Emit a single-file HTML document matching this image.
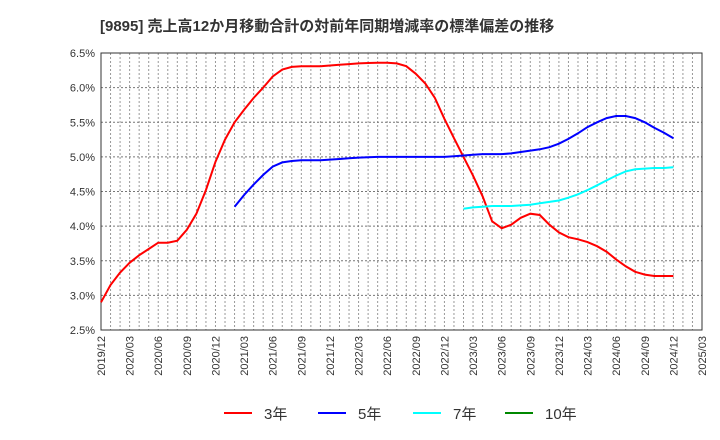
<!DOCTYPE html>
<html><head><meta charset="utf-8"><style>
body{margin:0;background:#fff;}
svg{display:block;font-family:"Liberation Sans","Noto Sans CJK JP",sans-serif;}
</style></head><body>
<svg id="c" width="720" height="440">
<text x="100" y="31" font-size="15" font-weight="bold" fill="#333">[9895]  売上高12か月移動合計の対前年同期増減率の標準偏差の推移</text>
</svg>
<script>
const xTicks=["2019/12","2020/03","2020/06","2020/09","2020/12","2021/03","2021/06","2021/09","2021/12","2022/03","2022/06","2022/09","2022/12","2023/03","2023/06","2023/09","2023/12","2024/03","2024/06","2024/09","2024/12","2025/03"];
const yTicks=[2.5,3.0,3.5,4.0,4.5,5.0,5.5,6.0,6.5];
const s3=[2.9,3.15,3.33,3.47,3.58,3.67,3.76,3.76,3.79,3.95,4.18,4.52,4.93,5.25,5.5,5.68,5.85,6.0,6.16,6.26,6.3,6.31,6.31,6.31,6.32,6.33,6.34,6.35,6.355,6.36,6.36,6.35,6.31,6.2,6.06,5.85,5.55,5.27,5.0,4.73,4.43,4.07,3.97,4.02,4.12,4.18,4.16,4.02,3.91,3.84,3.81,3.77,3.71,3.63,3.52,3.42,3.34,3.3,3.28,3.28,3.28];
const s3Start=0;
const s5=[4.28,4.45,4.6,4.74,4.86,4.92,4.94,4.95,4.95,4.95,4.96,4.97,4.98,4.99,4.995,5,5,5,5,5,5,5,5,5.01,5.02,5.03,5.04,5.04,5.04,5.05,5.07,5.09,5.11,5.14,5.19,5.26,5.34,5.43,5.5,5.56,5.59,5.59,5.56,5.5,5.42,5.35,5.27];
const s5Start=14;
const s7=[4.25,4.27,4.28,4.29,4.29,4.29,4.3,4.31,4.33,4.35,4.37,4.41,4.46,4.52,4.59,4.66,4.73,4.79,4.82,4.83,4.84,4.84,4.85];
const s7Start=38;
const s10=[];
const s10Start=0;
const NS="http://www.w3.org/2000/svg";
const svg=document.getElementById('c');
const L=101,R=702,T=53,B=330,months=63;
const xs=m=>L+(R-L)*m/months;
const ys=v=>B-(B-T)*(v-2.5)/4;
function el(t,a,p){const e=document.createElementNS(NS,t);for(const k in a)e.setAttribute(k,a[k]);(p||svg).appendChild(e);return e;}
const grid=el('g',{});


for(let m=1;m<months;m++){el('line',{x1:xs(m),x2:xs(m),y1:T,y2:B,stroke:'#999','stroke-dasharray':'2,2','stroke-width':1},grid);}
yTicks.forEach(v=>{const y=ys(v);
if(v>2.5&&v<6.5)el('line',{x1:L,x2:R,y1:y,y2:y,stroke:'#777','stroke-dasharray':'2,2','stroke-width':1},grid);
const t=el('text',{x:L-6,y:y+4,'font-size':11,'text-anchor':'end',fill:'#333'});t.textContent=v.toFixed(1)+'%';

});
xTicks.forEach((lab,i)=>{const x=xs(i*3);const t=el('text',{transform:`translate(${x+4},${B+6}) rotate(-90)`,'font-size':11,'text-anchor':'end',fill:'#333'});t.textContent=lab;

});
const fr=el('rect',{x:L,y:T,width:R-L,height:B-T,fill:'none',stroke:'#333','stroke-width':1});


function series(vals,start,color,name){if(!vals.length)return;
const d=vals.map((v,i)=>(i?'L':'M')+xs(start+i).toFixed(1)+','+ys(v).toFixed(1)).join('');
const p=el('path',{d:d,fill:'none',stroke:color,'stroke-width':2});

}
series(s3,s3Start,'#f00','series-3y');
series(s5,s5Start,'#00f','series-5y');
series(s7,s7Start,'#0ff','series-7y');
series(s10,s10Start,'#080','series-10y');
const leg=[['3年','#f00',224],['5年','#00f',318],['7年','#0ff',413],['10年','#080',505]];
leg.forEach(([n,c,x])=>{const g=el('g',{});


el('line',{x1:x,x2:x+28,y1:413,y2:413,stroke:c,'stroke-width':2},g);
const t=el('text',{x:x+40,y:419,'font-size':15,fill:'#333'},g);t.textContent=n;});
</script>
</body></html>
